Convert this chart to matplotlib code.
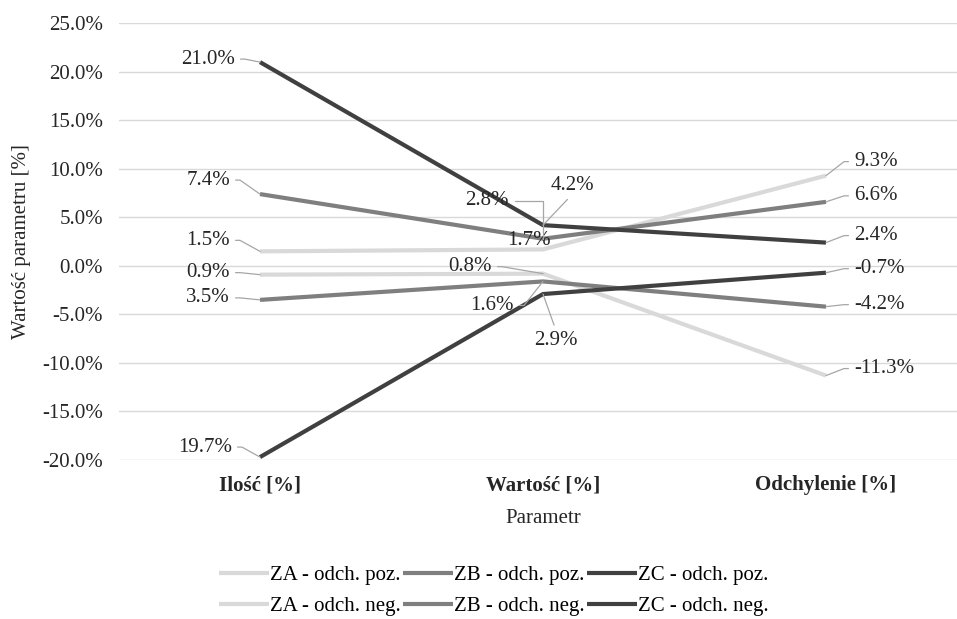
import matplotlib.pyplot as plt
from matplotlib.ticker import FuncFormatter

plt.rcParams["font.family"] = ["Liberation Serif", "DejaVu Serif"]

categories = ["Ilość [%]", "Wartość [%]", "Odchylenie [%]"]
series_names = ["ZA - odch. poz.", "ZB - odch. poz.", "ZC - odch. poz.",
                "ZA - odch. neg.", "ZB - odch. neg.", "ZC - odch. neg."]
za_poz = [1.5, 1.7, 9.3]
zb_poz = [7.4, 2.8, 6.6]
zc_poz = [21.0, 4.2, 2.4]
za_neg = [-0.9, -0.8, -11.3]
zb_neg = [-3.5, -1.6, -4.2]
zc_neg = [-19.7, -2.9, -0.7]
labels_za_poz = ["1.5%", "1.7%", "9.3%"]
labels_zb_poz = ["7.4%", "2.8%", "6.6%"]
labels_zc_poz = ["21.0%", "4.2%", "2.4%"]
labels_za_neg = ["0.9%", "0.8%", "-11.3%"]
labels_zb_neg = ["3.5%", "1.6%", "-4.2%"]
labels_zc_neg = ["19.7%", "2.9%", "-0.7%"]

values = [za_poz, zb_poz, zc_poz, za_neg, zb_neg, zc_neg]
texts = [labels_za_poz, labels_zb_poz, labels_zc_poz,
         labels_za_neg, labels_zb_neg, labels_zc_neg]
colors = ["#d9d9d9", "#7f7f7f", "#404040"] * 2

# label placement in pixels: (dx, dy, kind)
# kind: "L" left of point, "R" right of point, "U"/"D" above/below, "N" no leader,
# "C" horizontal then vertical
place = [
    [(-30, 11, "L"), (-14, 9, "N"), (28, 14, "R")],
    [(-30, 14, "L"), (-34, 38, "C"), (28, 6, "R")],
    [(-25, 3, "L"), (29, 40, "U"), (28, 7, "R")],
    [(-30, 2, "L"), (-51, 7, "L"), (28, 7, "R")],
    [(-30, 2, "L"), (-29, -24, "L"), (28, 2, "R")],
    [(-28, 10, "L"), (13, -46, "D"), (28, 4, "R")],
]

fig = plt.figure(figsize=(9.57, 6.19), dpi=100)
ax = fig.add_axes([118.5 / 957, 1 - 460 / 619, 849 / 957, 436.7 / 619])

x = list(range(len(categories)))
handles = []
for i in range(6):
    (ln,) = ax.plot(x, values[i], color=colors[i], linewidth=3, zorder=3,
                    solid_capstyle="butt")
    handles.append(ln)
    for j in range(3):
        dx, dy, kind = place[i][j]
        lead = dict(arrowstyle="-", color="#a6a6a6", lw=0.9, shrinkA=2, shrinkB=0)
        ha = "center"
        if kind == "L":
            ha = "right"
            lead.update(relpos=(1, 0.5), connectionstyle="arc,angleA=0,armA=10,armB=0,rad=0")
        elif kind == "R":
            ha = "left"
            lead.update(relpos=(0, 0.5), connectionstyle="arc,angleA=180,armA=10,armB=0,rad=0")
        elif kind == "C":
            ha = "right"
            lead.update(relpos=(1, 0.5), connectionstyle="angle,angleA=0,angleB=90,rad=0")
        elif kind == "U":
            lead.update(relpos=(0.5, 0))
        elif kind == "D":
            lead.update(relpos=(0.5, 1))
        ax.annotate(texts[i][j], (x[j], values[i][j]), xytext=(dx, dy),
                    textcoords="offset pixels", ha=ha, va="center",
                    fontsize=15, color="#262626", zorder=4,
                    arrowprops=None if kind == "N" else lead)

ax.set_xlim(-0.5, 2.5)
ax.set_ylim(-20, 25)
ax.set_yticks(range(-20, 26, 5))
ax.yaxis.set_major_formatter(FuncFormatter(lambda v, p: f"{v:.1f}%"))
ax.set_xticks(x)
ax.set_xticklabels(categories, fontweight="bold")
ax.tick_params(axis="both", length=0, labelsize=15, colors="#262626")
ax.tick_params(axis="x", pad=11)
ax.tick_params(axis="y", pad=11)
ax.grid(axis="y", color="#d9d9d9", linewidth=1)
ax.set_axisbelow(True)
for s in ax.spines.values():
    s.set_visible(False)

ax.set_xlabel("Parametr", fontsize=15, color="#262626", labelpad=10)
ax.set_ylabel("Wartość parametru [%]", fontsize=15, color="#262626")
ax.yaxis.set_label_coords(-88 / 849, 0.5)

order = [0, 3, 1, 4, 2, 5]
fig.legend([handles[k] for k in order], [series_names[k] for k in order],
           loc="center", bbox_to_anchor=(494 / 957, 1 - 591 / 619), ncol=3,
           frameon=False, fontsize=15, handlelength=2.4, handletextpad=0.05,
           columnspacing=0.1, labelspacing=0.55)

fig.savefig("out.png", dpi=100)
